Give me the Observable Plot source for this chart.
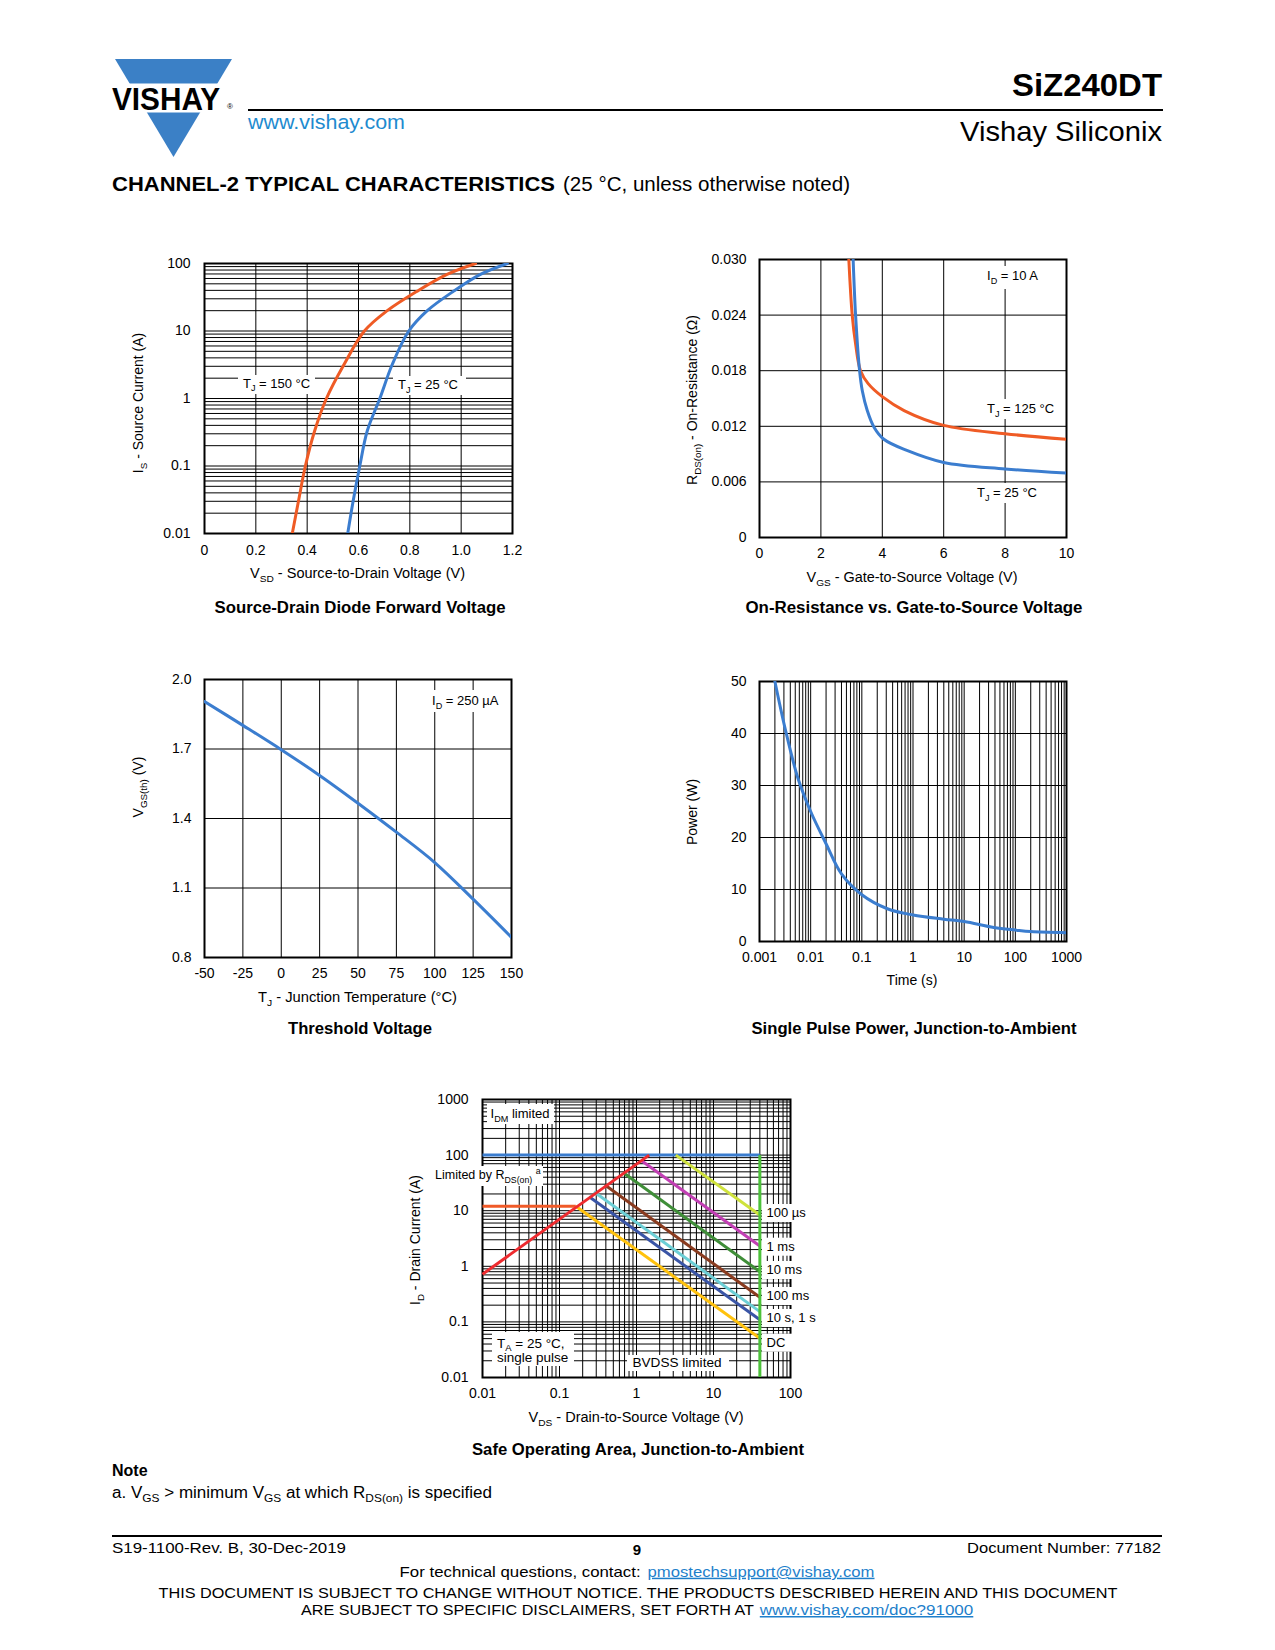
<!DOCTYPE html>
<html><head><meta charset="utf-8">
<script src="https://cdn.jsdelivr.net/npm/d3@7"></script>
<script src="https://cdn.jsdelivr.net/npm/@observablehq/plot@0.6"></script>
<style>
html,body{margin:0;padding:0;background:#fff;}
#page{position:relative;width:1275px;height:1650px;overflow:hidden;background:#fff;}
.chart{position:absolute;}
#overlay{position:absolute;left:0;top:0;z-index:5;pointer-events:none;}
</style></head><body><div id="page"></div>
<script>
// ---------- DATA ----------
// Chart 1: Source-Drain Diode Forward Voltage
const vsdTicks = [0, 0.2, 0.4, 0.6, 0.8, 1.0, 1.2];
const isTicks = [0.01, 0.1, 1, 10, 100];
const vsd150 = [0.342, 0.366, 0.393, 0.429, 0.475, 0.543, 0.623, 0.712, 0.829, 0.945, 1.056];
const is150  = [0.01, 0.03, 0.1, 0.33, 1, 3.16, 10, 20, 39, 69, 100];
const vsd25  = [0.558, 0.579, 0.605, 0.634, 0.683, 0.731, 0.796, 0.868, 0.971, 1.075, 1.18];
const is25   = [0.01, 0.03, 0.1, 0.33, 1, 3.16, 10, 20, 39, 69, 100];

// Chart 2: On-Resistance vs Gate-to-Source Voltage
const vgsTicks = [0, 2, 4, 6, 8, 10];
const rdsTicks = [0, 0.006, 0.012, 0.018, 0.024, 0.030];
const vgs125 = [2.91, 3.02, 3.13, 3.29, 3.54, 4.0, 4.71, 6.0, 8.0, 10];
const rds125 = [0.030, 0.024, 0.0209, 0.018, 0.0166, 0.0152, 0.0137, 0.0121, 0.0112, 0.0106];
const vgs25  = [3.05, 3.13, 3.26, 3.35, 3.51, 3.73, 4.05, 4.8, 6.0, 8.0, 10];
const rds25  = [0.030, 0.024, 0.018, 0.0158, 0.0137, 0.0119, 0.0106, 0.0094, 0.0081, 0.0074, 0.00695];

// Chart 3: Threshold Voltage
const tjTicks = [-50, -25, 0, 25, 50, 75, 100, 125, 150];
const vthTicks = [0.8, 1.1, 1.4, 1.7, 2.0];
const tj  = [-50, -25, 0, 25, 50, 75, 100, 125, 150];
const vth = [1.905, 1.802, 1.697, 1.586, 1.466, 1.341, 1.21, 1.052, 0.887];

// Chart 4: Single Pulse Power
const timeTicks = [0.001, 0.01, 0.1, 1, 10, 100, 1000];
const powerTicks = [0, 10, 20, 30, 40, 50];
const pulseTime  = [0.002, 0.00316, 0.0056, 0.01, 0.02, 0.04, 0.1, 0.316, 1, 4, 10, 38, 100, 200, 1000];
const pulsePower = [50, 41, 31.5, 25, 18.8, 13, 9.0, 6.3, 5.1, 4.3, 3.85, 2.7, 2.2, 1.9, 1.7];

// Chart 5: Safe Operating Area
const vdsTicks = [0.01, 0.1, 1, 10, 100];
const idTicks = [0.01, 0.1, 1, 10, 100, 1000];
const soaNames = ["IDM limited", "RDS(on) limited", "ID limited", "100 µs", "1 ms", "10 ms", "100 ms", "10 s", "1 s", "DC", "BVDSS limited"];
const soaV1 = [0.01, 0.01, 0.01, 3.24, 1.14, 0.69, 0.39, 0.28, 0.243, 0.163, 40];
const soaI1 = [100, 0.72, 12, 100, 81, 47, 28.9, 21.9, 17.8, 12, 0.01];
const soaV2 = [40, 1.46, 0.163, 40, 40, 40, 40, 40, 40, 40, 40];
const soaI2 = [100, 100, 12, 8.4, 2.32, 0.80, 0.277, 0.153, 0.109, 0.051, 100];
const soaColors = ["#3B7DCF", "#EE2B2F", "#F05A28", "#CFE23C", "#C23FB4", "#3F8E38", "#8A3B1F", "#6CCFD6", "#3A55A6", "#FFC20E", "#4CC13A"];
const soaOrder = [0, 2, 3, 4, 5, 6, 7, 8, 9, 1, 10];

// ---------- HELPERS ----------
const FONT = '"Liberation Sans", Arial, Helvetica, sans-serif';
const page = document.getElementById("page");
const BLUE = "#3B7DCF", ORANGE = "#EF5B25";

function logGrid(lo, hi) {
  const out = [];
  for (let e = lo; e < hi; e++) for (let m = 1; m <= 9; m++) out.push(+(m * Math.pow(10, e)).toPrecision(3));
  out.push(+Math.pow(10, hi).toPrecision(3));
  return out;
}
const rows = (xs, ys) => xs.map((x, i) => ({x, y: ys[i]}));

function makeChart(c) {
  const mL = 90, mT = 15, mR = 15, mB = 32;
  const svg = Plot.plot({
    width: c.w + mL + mR, height: c.h + mT + mB,
    marginLeft: mL, marginRight: mR, marginTop: mT, marginBottom: mB,
    style: {fontFamily: FONT, fontSize: "14px", color: "#000", background: "transparent", overflow: "visible"},
    x: {type: c.xType || "linear", domain: c.xDomain, label: null},
    y: {type: c.yType || "linear", domain: c.yDomain, label: null},
    marks: [
      Plot.gridX(c.xGrid, {stroke: "#000", strokeOpacity: 1, strokeWidth: 1}),
      Plot.gridY(c.yGrid, {stroke: "#000", strokeOpacity: 1, strokeWidth: 1}),
      Plot.frame({stroke: "#000", strokeWidth: 2}),
      ...c.marks,
      Plot.axisX(c.xTicks, {tickSize: 0, tickPadding: c.xPad, tickFormat: c.xFmt, label: null}),
      Plot.axisY(c.yTicks, {tickSize: 0, tickPadding: c.yPad, tickFormat: c.yFmt, label: null})
    ]
  });
  const div = document.createElement("div");
  div.className = "chart";
  div.style.left = (c.left - mL) + "px";
  div.style.top = (c.top - mT) + "px";
  div.appendChild(svg);
  page.appendChild(div);
  return svg;
}
const CURVE = "catmull-rom";

// ---------- CHARTS ----------
makeChart({
  left: 204, top: 263, w: 308, h: 270,
  xDomain: [0, 1.2], yType: "log", yDomain: [0.01, 100],
  xGrid: vsdTicks, yGrid: logGrid(-2, 2),
  xTicks: vsdTicks, yTicks: isTicks,
  xFmt: d => d === 0 ? "0" : d.toFixed(1), yFmt: d => String(d),
  xPad: 12, yPad: 14,
  marks: [
    Plot.line(rows(vsd150, is150), {x: "x", y: "y", stroke: ORANGE, strokeWidth: 3, curve: CURVE, clip: true}),
    Plot.line(rows(vsd25, is25), {x: "x", y: "y", stroke: BLUE, strokeWidth: 3, curve: CURVE, clip: true})
  ]
});

makeChart({
  left: 759, top: 259, w: 307, h: 278,
  xDomain: [0, 10], yDomain: [0, 0.030],
  xGrid: vgsTicks, yGrid: rdsTicks,
  xTicks: vgsTicks, yTicks: rdsTicks,
  xFmt: d => String(d), yFmt: d => d === 0 ? "0" : d.toFixed(3),
  xPad: 11, yPad: 13,
  marks: [
    Plot.line(rows(vgs125, rds125), {x: "x", y: "y", stroke: ORANGE, strokeWidth: 3, curve: CURVE, clip: true}),
    Plot.line(rows(vgs25, rds25), {x: "x", y: "y", stroke: BLUE, strokeWidth: 3, curve: CURVE, clip: true})
  ]
});

makeChart({
  left: 204, top: 679, w: 307, h: 278,
  xDomain: [-50, 150], yDomain: [0.8, 2.0],
  xGrid: tjTicks, yGrid: vthTicks,
  xTicks: tjTicks, yTicks: vthTicks,
  xFmt: d => String(d), yFmt: d => d.toFixed(1),
  xPad: 11, yPad: 13,
  marks: [
    Plot.line(rows(tj, vth), {x: "x", y: "y", stroke: BLUE, strokeWidth: 3, curve: CURVE, clip: true})
  ]
});

makeChart({
  left: 759, top: 681, w: 307, h: 260,
  xType: "log", xDomain: [0.001, 1000], yDomain: [0, 50],
  xGrid: logGrid(-3, 3), yGrid: powerTicks,
  xTicks: timeTicks, yTicks: powerTicks,
  xFmt: d => String(d), yFmt: d => String(d),
  xPad: 11, yPad: 13,
  marks: [
    Plot.line(rows(pulseTime, pulsePower), {x: "x", y: "y", stroke: BLUE, strokeWidth: 3, curve: CURVE, clip: true})
  ]
});

makeChart({
  left: 482, top: 1099, w: 308, h: 278,
  xType: "log", xDomain: [0.01, 100], yType: "log", yDomain: [0.01, 1000],
  xGrid: logGrid(-2, 2), yGrid: logGrid(-2, 3),
  xTicks: vdsTicks, yTicks: idTicks,
  xFmt: d => String(d), yFmt: d => String(d),
  xPad: 11, yPad: 14,
  marks: soaOrder.map(i => Plot.link([{x1: soaV1[i], y1: soaI1[i], x2: soaV2[i], y2: soaI2[i]}],
    {x1: "x1", y1: "y1", x2: "x2", y2: "y2", stroke: soaColors[i], strokeWidth: 3, strokeLinecap: "butt", clip: true}))
});

// ---------- OVERLAY TEXT ----------
const ov = d3.select(page).append("svg").attr("id", "overlay").attr("width", 1275).attr("height", 1650);

function txt(x, y, parts, o = {}) {
  const size = o.size || 14;
  const t = ov.append("text").attr("x", x).attr("y", y)
    .attr("font-size", size).attr("font-family", o.family || FONT)
    .attr("font-weight", o.weight || "normal").attr("text-anchor", o.anchor || "start")
    .attr("fill", o.fill || "#000");
  if (o.rotate) t.attr("transform", `rotate(${o.rotate},${x},${y})`);
  if (o.len) t.attr("textLength", o.len).attr("lengthAdjust", "spacingAndGlyphs");
  if (o.underline) t.attr("text-decoration", "underline");
  if (typeof parts === "string") parts = [parts];
  let shift = 0;
  for (const p of parts) {
    const [s, kind] = Array.isArray(p) ? p : [p, null];
    const target = kind === "sub" ? size * 0.28 : kind === "sup" ? -size * 0.4 : 0;
    const ts = t.append("tspan").text(s).attr("dy", target - shift);
    if (kind) ts.attr("font-size", size * 0.7);
    shift = target;
  }
  return t;
}
function box(x, y, w, h) { ov.append("rect").attr("x", x).attr("y", y).attr("width", w).attr("height", h).attr("fill", "#fff"); }

// Header / logo
ov.append("polygon").attr("points", "115,59 232,59 173.5,157").attr("fill", "#3B80C6");
ov.append("rect").attr("x", 100).attr("y", 83.5).attr("width", 140).attr("height", 29).attr("fill", "#fff");
txt(112, 110, "VISHAY", {size: 32, weight: "bold", len: 108});
txt(227, 109, "®", {size: 8});
txt(248, 129, "www.vishay.com", {size: 20.5, fill: "#1E8BCF", len: 157});
ov.append("line").attr("x1", 248).attr("x2", 1163).attr("y1", 110).attr("y2", 110).attr("stroke", "#000").attr("stroke-width", 2);
txt(1162, 96, "SiZ240DT", {size: 31, weight: "bold", anchor: "end", len: 150});
txt(1162, 140.5, "Vishay Siliconix", {size: 28, anchor: "end", len: 202});
txt(112, 191, "CHANNEL-2 TYPICAL CHARACTERISTICS", {size: 20, weight: "bold", len: 443});
txt(563, 191, "(25 °C, unless otherwise noted)", {size: 19.5, len: 287});

// Chart 1 texts
txt(357.5, 578, ["V", ["SD", "sub"], " - Source-to-Drain Voltage (V)"], {anchor: "middle", len: 215});
txt(143, 403, ["I", ["S", "sub"], " - Source Current (A)"], {anchor: "middle", rotate: -90});
txt(360, 613, "Source-Drain Diode Forward Voltage", {size: 16, weight: "bold", anchor: "middle", len: 291});
box(238, 375, 77, 19); txt(243, 387.5, ["T", ["J", "sub"], " = 150 °C"], {size: 13});
box(393, 376, 73, 19); txt(398, 389, ["T", ["J", "sub"], " = 25 °C"], {size: 13});

// Chart 2 texts
txt(912, 581.7, ["V", ["GS", "sub"], " - Gate-to-Source Voltage (V)"], {anchor: "middle", len: 211});
txt(697, 400, ["R", ["DS(on)", "sub"], " - On-Resistance (Ω)"], {anchor: "middle", rotate: -90});
txt(914, 613, "On-Resistance vs. Gate-to-Source Voltage", {size: 16, weight: "bold", anchor: "middle", len: 337});
box(983, 266, 62, 23); txt(987, 280, ["I", ["D", "sub"], " = 10 A"], {size: 13});
box(983, 399, 78, 20); txt(987, 413, ["T", ["J", "sub"], " = 125 °C"], {size: 13});
box(973, 483, 72, 20); txt(977, 497, ["T", ["J", "sub"], " = 25 °C"], {size: 13});

// Chart 3 texts
txt(357.5, 1001.7, ["T", ["J", "sub"], " - Junction Temperature (°C)"], {anchor: "middle", len: 199});
txt(143, 787, ["V", ["GS(th)", "sub"], " (V)"], {anchor: "middle", rotate: -90});
txt(360, 1034, "Threshold Voltage", {size: 16, weight: "bold", anchor: "middle", len: 144});
box(428, 690, 77, 22); txt(432, 705, ["I", ["D", "sub"], " = 250 µA"], {size: 13});

// Chart 4 texts
txt(912, 985, "Time (s)", {anchor: "middle"});
txt(697, 812, "Power (W)", {anchor: "middle", rotate: -90});
txt(914, 1034, "Single Pulse Power, Junction-to-Ambient", {size: 16, weight: "bold", anchor: "middle", len: 325});

// Chart 5 texts
txt(636, 1421.7, ["V", ["DS", "sub"], " - Drain-to-Source Voltage (V)"], {anchor: "middle", len: 215});
txt(420, 1240, ["I", ["D", "sub"], " - Drain Current (A)"], {anchor: "middle", rotate: -90});
txt(638, 1455, "Safe Operating Area, Junction-to-Ambient", {size: 16, weight: "bold", anchor: "middle", len: 332});
box(487, 1104, 67, 20); txt(490.5, 1118, ["I", ["DM", "sub"], " limited"], {size: 13});
box(431, 1166, 112, 20); txt(435, 1179, ["Limited by R", ["DS(on)", "sub"], " ", ["a", "sup"]], {size: 12.5});
box(492, 1332, 82, 34); txt(497, 1347.5, ["T", ["A", "sub"], " = 25 °C,"], {size: 13.5}); txt(497, 1362, "single pulse", {size: 13.5});
box(627, 1355, 102, 16); txt(632.5, 1366.7, "BVDSS limited", {size: 13.5, len: 89});
const soaRight = [["100 µs", 1217], ["1 ms", 1250.7], ["10 ms", 1274], ["100 ms", 1300], ["10 s, 1 s", 1322], ["DC", 1346.7]];
soaRight.forEach(([s, b]) => { box(762, b - 13, 58, 18); txt(766.5, b, s, {size: 13}); });

// Note and footer
txt(112, 1476, "Note", {size: 16, weight: "bold"});
txt(112, 1498, ["a.  V", ["GS", "sub"], " > minimum V", ["GS", "sub"], " at which R", ["DS(on)", "sub"], " is specified"], {size: 16, len: 380});
ov.append("line").attr("x1", 112).attr("x2", 1162).attr("y1", 1536).attr("y2", 1536).attr("stroke", "#000").attr("stroke-width", 2);
txt(112, 1553, "S19-1100-Rev. B, 30-Dec-2019", {size: 15, len: 234});
txt(637, 1555, "9", {size: 15, weight: "bold", anchor: "middle"});
txt(1161, 1553, "Document Number: 77182", {size: 15, anchor: "end", len: 194});
txt(399.6, 1576.7, "For technical questions, contact: ", {size: 15, len: 241});
txt(647.5, 1576.7, "pmostechsupport@vishay.com", {size: 15, len: 227, fill: "#1E7FCB", underline: true});
txt(638, 1598.3, "THIS DOCUMENT IS SUBJECT TO CHANGE WITHOUT NOTICE. THE PRODUCTS DESCRIBED HEREIN AND THIS DOCUMENT", {size: 15, anchor: "middle", len: 959});
txt(301, 1615, "ARE SUBJECT TO SPECIFIC DISCLAIMERS, SET FORTH AT ", {size: 15, len: 453});
txt(759.8, 1615, "www.vishay.com/doc?91000", {size: 15, len: 213.5, fill: "#1E7FCB", underline: true});
</script>
</body></html>
